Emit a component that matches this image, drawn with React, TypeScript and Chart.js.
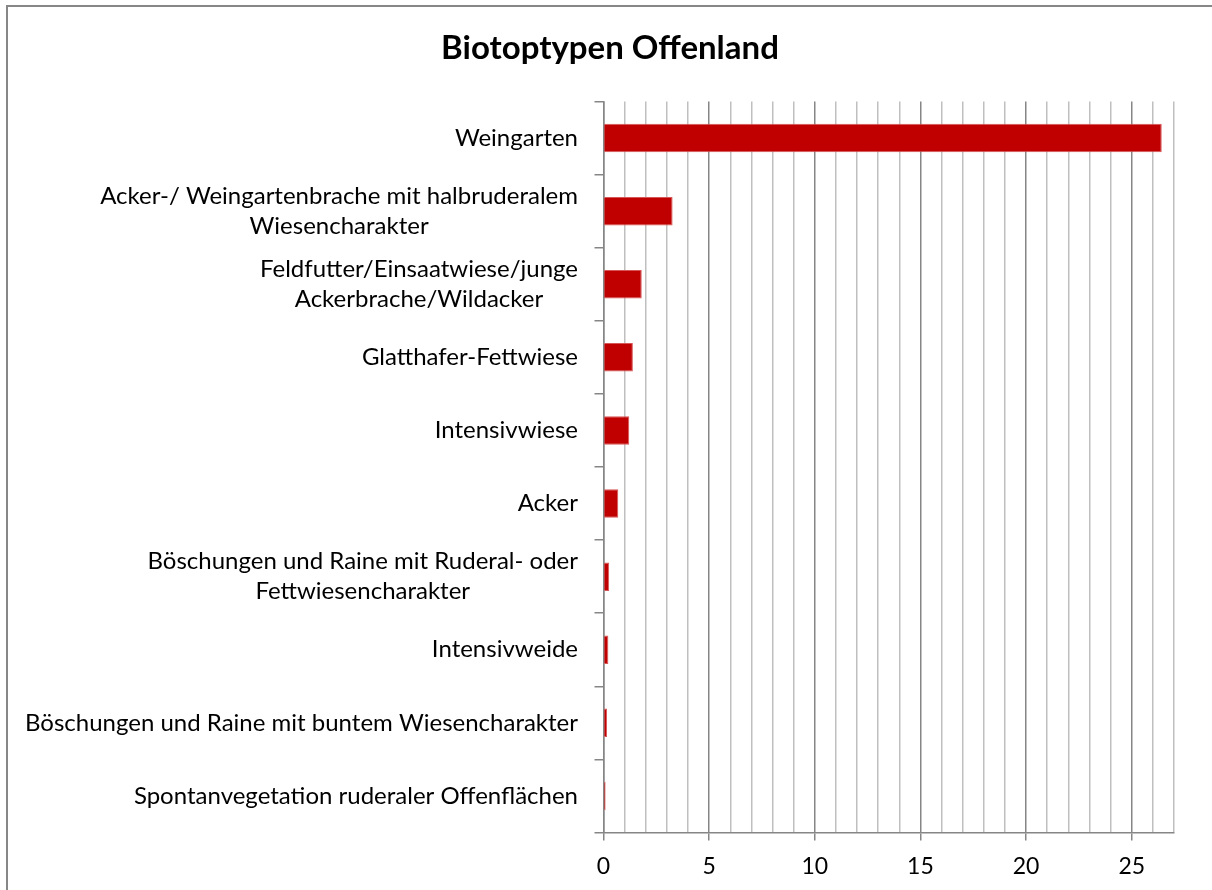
import React, { useEffect, useRef } from 'react';
import { Chart, registerables } from 'chart.js';

Chart.register(...registerables);

// ---- data ----
const categories: string[][] = [
  ['Weingarten'],
  ['Acker-/ Weingartenbrache mit halbruderalem', 'Wiesencharakter'],
  ['Feldfutter/Einsaatwiese/junge', 'Ackerbrache/Wildacker'],
  ['Glatthafer-Fettwiese'],
  ['Intensivwiese'],
  ['Acker'],
  ['Böschungen und Raine mit Ruderal- oder', 'Fettwiesencharakter'],
  ['Intensivweide'],
  ['Böschungen und Raine mit buntem Wiesencharakter'],
  ['Spontanvegetation ruderaler Offenflächen'],
];
const values: number[] = [26.42, 3.27, 1.81, 1.39, 1.22, 0.7, 0.27, 0.23, 0.17, 0.1];
const xMin = 0;
const xMax = 27;
const xStep = 1;
const xLabelEvery = 5;
const chartTitle = 'Biotoptypen Offenland';

// ---- styles ----
const FONT = 'Lato';
const LABEL_SIZE = 24;
const LABEL_LINE_H = 30;
const LABEL_RIGHT = 578;
const TITLE_X = 610;
const TITLE_Y = 48;
const MAJOR = '#868686';
const MINOR = '#BFBFBF';

const labelPlugin = {
  id: 'catLabels',
  afterDraw(chart: any) {
    const ctx = chart.ctx as CanvasRenderingContext2D;
    const y = chart.scales.y;
    ctx.save();
    ctx.fillStyle = '#000';
    ctx.textBaseline = 'middle';
    ctx.textAlign = 'center';
    ctx.font = `${LABEL_SIZE}px ${FONT}`;
    categories.forEach((lines, i) => {
      const cy = y.getPixelForValue(i);
      const w = Math.max(...lines.map((l) => ctx.measureText(l).width));
      const cx = LABEL_RIGHT - w / 2;
      lines.forEach((l, j) => {
        ctx.fillText(l, cx, cy + (j - (lines.length - 1) / 2) * LABEL_LINE_H);
      });
    });
    ctx.font = `bold 33px ${FONT}`;
    ctx.fillText(chartTitle, TITLE_X, TITLE_Y);
    ctx.restore();
  },
};

export default function App() {
  const ref = useRef<HTMLCanvasElement | null>(null);
  useEffect(() => {
    if (!ref.current) return;
    const chart = new Chart(ref.current, {
      type: 'bar',
      data: {
        labels: categories.map((c) => c.join(' ')),
        datasets: [
          {
            data: values,
            backgroundColor: '#C00000',
            borderColor: '#D85555',
            borderWidth: 1,
            barPercentage: 0.39,
            categoryPercentage: 1,
          },
        ],
      },
      options: {
        indexAxis: 'y',
        animation: false,
        responsive: false,
        maintainAspectRatio: false,
        layout: { padding: { top: 101.5, right: 38, left: 0, bottom: 0 } },
        plugins: {
          legend: { display: false },
          tooltip: { enabled: false },
          title: { display: false },
        },
        scales: {
          y: {
            type: 'category',
            position: 'left',
            offset: true,
            grid: {
              offset: true,
              drawOnChartArea: false,
              drawTicks: true,
              tickLength: 9,
              color: MAJOR,
              lineWidth: 1.5,
            },
            border: { color: MAJOR, width: 1.5 },
            ticks: { display: false },
            afterFit: (s: any) => {
              s.width = 603.5;
            },
          },
          x: {
            type: 'linear',
            min: xMin,
            max: xMax,
            grid: {
              color: (c: any) => (c.tick && c.tick.value % xLabelEvery === 0 ? MAJOR : MINOR),
              tickColor: (c: any) => (c.tick && c.tick.value % xLabelEvery === 0 ? MAJOR : 'rgba(0,0,0,0)'),
              lineWidth: 1.5,
              tickLength: 8,
            },
            border: { color: MAJOR, width: 1.5 },
            ticks: {
              stepSize: xStep,
              autoSkip: false,
              maxRotation: 0,
              padding: 12,
              color: '#000',
              font: { family: FONT, size: 23 },
              callback: (v: any) => (Number(v) % xLabelEvery === 0 ? String(v) : ''),
            },
            afterFit: (s: any) => {
              s.height = 57.5;
            },
          },
        },
      },
      plugins: [labelPlugin],
    } as any);
    return () => chart.destroy();
  }, []);

  return (
    <div
      style={{
        position: 'absolute',
        left: 0,
        top: 0,
        width: 1212,
        height: 890,
        overflow: 'hidden',
        background: '#fff',
      }}
    >
      <div
        style={{
          position: 'absolute',
          left: 6,
          top: 5,
          width: 1400,
          height: 1100,
          border: '2px solid #878787',
        }}
      />
      <canvas ref={ref} width={1212} height={890} style={{ position: 'absolute', left: 0, top: 0 }} />
    </div>
  );
}
